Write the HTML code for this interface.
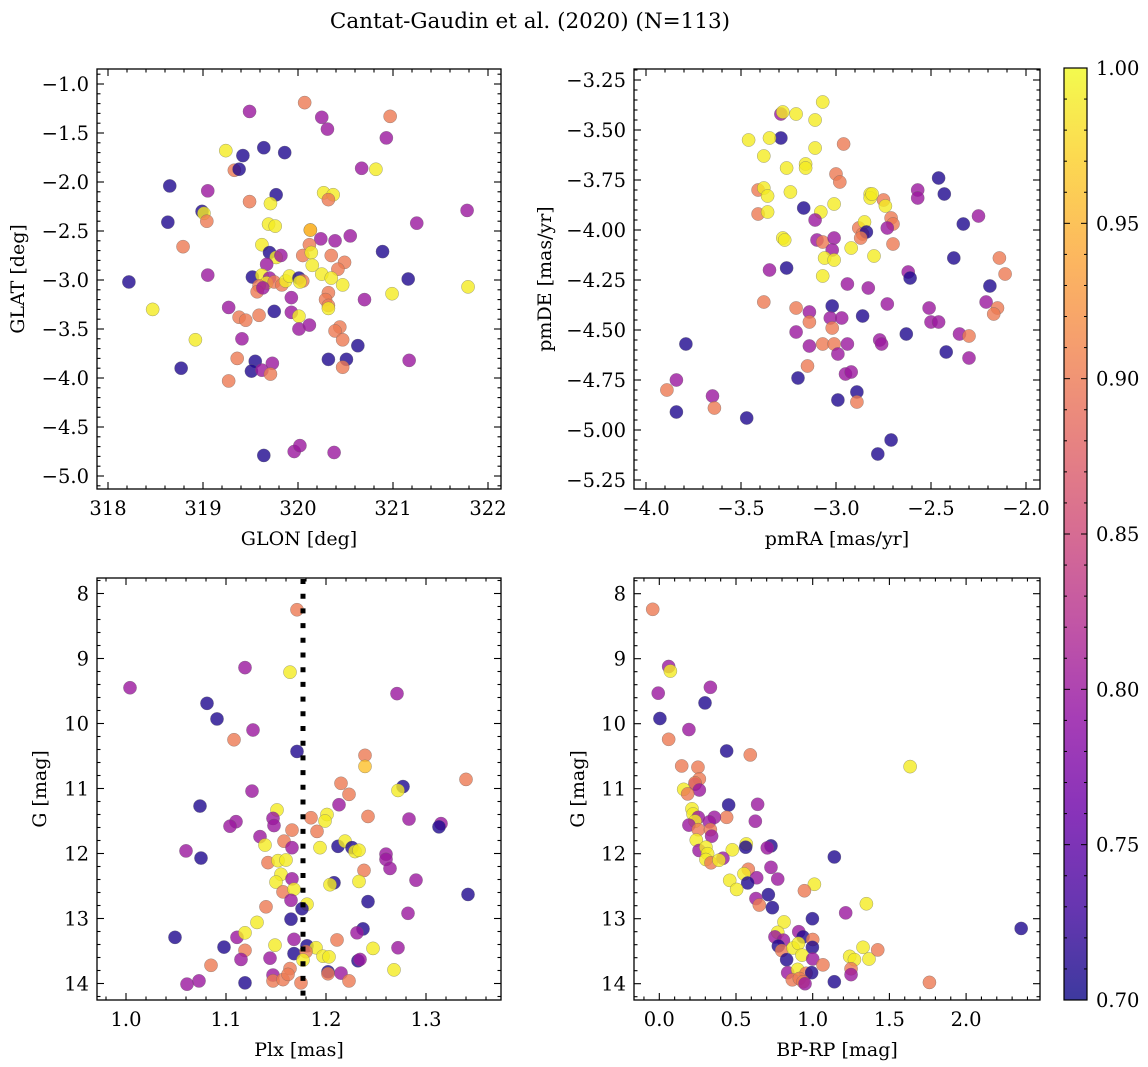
<!DOCTYPE html>
<html><head><meta charset="utf-8"><style>
html,body{margin:0;padding:0;background:#fff}
svg{display:block;font-family:"DejaVu Serif","Liberation Serif",serif}
</style></head><body>
<svg id="fig" width="1148" height="1067" viewBox="0 0 1148 1067" xmlns="http://www.w3.org/2000/svg">
<defs>
<linearGradient id="plasma" x1="0" y1="1" x2="0" y2="0">
<stop offset="0" stop-color="#0d0887"/><stop offset="0.1" stop-color="#41049d"/><stop offset="0.2" stop-color="#6a00a8"/><stop offset="0.3" stop-color="#8f0da4"/><stop offset="0.4" stop-color="#b12a90"/><stop offset="0.5" stop-color="#cc4778"/><stop offset="0.6" stop-color="#e16462"/><stop offset="0.7" stop-color="#f2844b"/><stop offset="0.8" stop-color="#fca636"/><stop offset="0.9" stop-color="#fcce25"/><stop offset="1" stop-color="#f0f921"/>
</linearGradient>
</defs>
<text x="530" y="28" font-size="21.5" text-anchor="middle">Cantat-Gaudin et al. (2020) (N=113)</text>
</svg>
<script>
// ---- Panel 1: GLON vs GLAT ----
const p1Glon=[319.49,320.07,320.25,320.31,320.97,320.93,319.24,319.42,319.64,319.86,319.33,319.38,320.67,320.82,318.65,319.05,319.77,320.27,320.37,320.32,319.49,319.71,318.99,319.01,319.04,318.63,321.78,321.25,319.69,319.76,320.13,320.13,320.24,320.39,320.55,318.79,319.62,320.12,319.70,319.77,319.82,320.05,320.14,320.35,320.49,320.42,320.15,319.67,320.89,318.22,319.05,319.52,319.62,319.70,319.67,319.75,319.83,319.87,319.91,320.01,320.05,320.02,320.25,320.35,320.47,319.59,319.57,319.63,321.16,321.79,320.99,320.32,320.29,319.93,320.70,318.47,319.27,319.38,319.45,319.59,319.75,319.93,320.01,320.01,320.12,320.32,320.32,320.44,320.39,320.47,318.92,319.41,320.63,319.36,319.55,319.51,319.62,319.73,319.71,320.32,320.51,320.47,321.17,318.77,319.27,319.64,319.96,320.02,320.38];
const p1Glat=[-1.28,-1.19,-1.34,-1.46,-1.33,-1.55,-1.68,-1.73,-1.65,-1.70,-1.88,-1.87,-1.86,-1.87,-2.04,-2.09,-2.13,-2.11,-2.13,-2.18,-2.20,-2.22,-2.30,-2.32,-2.40,-2.41,-2.29,-2.42,-2.43,-2.45,-2.49,-2.49,-2.58,-2.60,-2.55,-2.66,-2.64,-2.64,-2.72,-2.77,-2.75,-2.75,-2.72,-2.75,-2.82,-2.89,-2.85,-2.84,-2.71,-3.02,-2.95,-2.97,-2.95,-2.98,-3.03,-3.02,-3.05,-3.01,-2.96,-2.98,-3.01,-3.02,-2.94,-2.98,-3.05,-3.06,-3.12,-3.08,-2.99,-3.07,-3.14,-3.13,-3.20,-3.18,-3.20,-3.30,-3.28,-3.38,-3.41,-3.36,-3.32,-3.33,-3.37,-3.50,-3.46,-3.26,-3.29,-3.48,-3.52,-3.61,-3.61,-3.60,-3.67,-3.80,-3.83,-3.93,-3.92,-3.85,-3.96,-3.81,-3.81,-3.89,-3.82,-3.90,-4.03,-4.79,-4.75,-4.69,-4.76];
const p1Prob=[0.80,0.90,0.80,0.80,0.90,0.80,0.99,0.71,0.71,0.71,0.90,0.71,0.80,0.99,0.71,0.80,0.71,0.99,0.99,0.90,0.90,0.99,0.71,0.99,0.90,0.71,0.80,0.80,0.99,0.99,0.90,0.96,0.80,0.80,0.80,0.90,0.99,0.90,0.71,0.99,0.80,0.90,0.99,0.90,0.90,0.90,0.99,0.80,0.71,0.71,0.80,0.71,0.99,0.80,0.99,0.90,0.90,0.99,0.99,0.71,0.90,0.99,0.99,0.99,0.99,0.90,0.90,0.80,0.71,0.99,0.99,0.90,0.90,0.80,0.80,0.99,0.80,0.90,0.90,0.90,0.71,0.80,0.99,0.80,0.80,0.90,0.99,0.90,0.90,0.90,0.99,0.80,0.71,0.90,0.71,0.71,0.80,0.80,0.90,0.71,0.71,0.90,0.80,0.71,0.90,0.71,0.80,0.80,0.80];
// ---- Panel 2: pmRA vs pmDE ----
const p2Pmra=[-3.07,-3.29,-3.28,-3.21,-3.11,-3.29,-3.46,-3.35,-2.96,-3.11,-3.38,-3.26,-3.16,-3.16,-3.00,-2.98,-3.41,-3.38,-3.36,-3.24,-2.57,-2.57,-2.46,-2.43,-3.17,-3.41,-3.36,-3.08,-3.01,-3.11,-2.82,-2.82,-2.81,-2.75,-2.74,-2.71,-2.70,-2.73,-2.33,-2.25,-2.88,-2.86,-2.85,-2.84,-2.87,-3.10,-3.07,-3.01,-3.02,-2.92,-2.80,-3.06,-3.01,-2.70,-3.28,-3.27,-2.38,-2.14,-2.11,-3.35,-3.26,-3.07,-2.62,-2.61,-2.94,-2.83,-2.19,-3.38,-3.21,-3.14,-3.14,-3.02,-3.03,-2.97,-3.02,-2.86,-2.73,-2.51,-2.50,-2.46,-2.21,-2.15,-2.17,-2.63,-3.21,-3.14,-3.07,-3.01,-2.99,-2.94,-2.77,-2.76,-2.35,-2.30,-2.42,-2.30,-3.15,-3.20,-2.95,-2.92,-2.89,-2.89,-2.99,-3.84,-3.89,-3.84,-3.79,-3.65,-3.64,-3.47,-2.71,-2.78];
const p2Pmde=[-3.36,-3.42,-3.41,-3.42,-3.45,-3.54,-3.55,-3.54,-3.57,-3.59,-3.63,-3.69,-3.67,-3.69,-3.72,-3.76,-3.80,-3.79,-3.83,-3.81,-3.80,-3.84,-3.74,-3.82,-3.89,-3.92,-3.91,-3.91,-3.87,-3.95,-3.82,-3.84,-3.82,-3.85,-3.88,-3.94,-3.97,-3.99,-3.97,-3.93,-3.99,-4.02,-3.96,-4.01,-4.04,-4.05,-4.06,-4.04,-4.10,-4.09,-4.13,-4.14,-4.15,-4.07,-4.04,-4.05,-4.14,-4.14,-4.22,-4.20,-4.19,-4.23,-4.21,-4.24,-4.27,-4.29,-4.28,-4.36,-4.39,-4.41,-4.46,-4.38,-4.44,-4.44,-4.49,-4.43,-4.37,-4.39,-4.46,-4.46,-4.36,-4.39,-4.42,-4.52,-4.51,-4.58,-4.57,-4.57,-4.62,-4.57,-4.55,-4.57,-4.52,-4.53,-4.61,-4.64,-4.68,-4.74,-4.72,-4.71,-4.81,-4.86,-4.85,-4.75,-4.80,-4.91,-4.57,-4.83,-4.89,-4.94,-5.05,-5.12];
const p2Prob=[0.99,0.80,0.99,0.99,0.99,0.71,0.99,0.99,0.90,0.99,0.99,0.99,0.99,0.99,0.90,0.90,0.90,0.99,0.99,0.99,0.80,0.80,0.71,0.71,0.71,0.90,0.99,0.99,0.99,0.80,0.99,0.99,0.99,0.90,0.99,0.90,0.90,0.80,0.71,0.80,0.90,0.90,0.99,0.71,0.90,0.80,0.90,0.80,0.80,0.99,0.99,0.99,0.99,0.90,0.99,0.99,0.71,0.90,0.90,0.80,0.71,0.99,0.80,0.71,0.80,0.80,0.71,0.90,0.90,0.80,0.90,0.71,0.80,0.80,0.90,0.71,0.80,0.80,0.80,0.80,0.80,0.90,0.90,0.71,0.80,0.80,0.90,0.90,0.80,0.80,0.80,0.80,0.80,0.90,0.71,0.80,0.90,0.71,0.80,0.80,0.71,0.90,0.71,0.80,0.90,0.71,0.71,0.80,0.90,0.71,0.71,0.71];
// ---- Panel 3: Plx vs G ----
const p3Plx=[1.171,1.164,1.119,1.004,1.271,1.081,1.091,1.127,1.108,1.171,1.239,1.239,1.340,1.215,1.277,1.272,1.223,1.126,1.074,1.151,1.213,1.147,1.110,1.104,1.148,1.185,1.201,1.199,1.242,1.283,1.315,1.313,1.166,1.191,1.134,1.158,1.139,1.166,1.194,1.212,1.219,1.226,1.229,1.233,1.060,1.075,1.142,1.152,1.160,1.260,1.260,1.264,1.238,1.155,1.166,1.150,1.208,1.204,1.233,1.290,1.157,1.168,1.165,1.242,1.342,1.140,1.181,1.176,1.282,1.165,1.131,1.049,1.111,1.119,1.237,1.231,1.211,1.168,1.098,1.119,1.149,1.181,1.190,1.247,1.272,1.168,1.180,1.115,1.144,1.177,1.197,1.203,1.232,1.234,1.085,1.073,1.061,1.119,1.147,1.147,1.157,1.164,1.162,1.175,1.202,1.202,1.215,1.223,1.268];
const p3G=[8.25,9.21,9.14,9.45,9.54,9.69,9.93,10.10,10.25,10.43,10.49,10.66,10.86,10.92,10.97,11.03,11.09,11.04,11.27,11.33,11.25,11.46,11.51,11.58,11.57,11.45,11.40,11.50,11.43,11.47,11.54,11.59,11.64,11.66,11.74,11.81,11.87,11.91,11.91,11.89,11.81,11.91,11.97,11.95,11.96,12.07,12.14,12.11,12.10,12.01,12.09,12.23,12.26,12.32,12.39,12.44,12.45,12.48,12.43,12.41,12.59,12.55,12.72,12.74,12.63,12.82,12.78,12.85,12.92,13.01,13.06,13.29,13.29,13.22,13.16,13.22,13.33,13.32,13.44,13.49,13.41,13.42,13.45,13.46,13.45,13.54,13.51,13.63,13.61,13.64,13.58,13.59,13.65,13.63,13.72,13.96,14.01,13.99,13.87,13.96,13.94,13.77,13.86,13.99,13.82,13.85,13.84,13.96,13.79];
const p3Prob=[0.90,0.99,0.80,0.80,0.80,0.71,0.71,0.80,0.90,0.71,0.90,0.96,0.90,0.90,0.71,0.99,0.90,0.80,0.71,0.99,0.80,0.80,0.80,0.80,0.80,0.90,0.99,0.99,0.90,0.80,0.80,0.71,0.90,0.90,0.80,0.90,0.99,0.80,0.99,0.71,0.99,0.71,0.99,0.99,0.80,0.71,0.90,0.99,0.99,0.80,0.80,0.80,0.90,0.99,0.80,0.99,0.71,0.99,0.99,0.80,0.90,0.99,0.80,0.71,0.71,0.90,0.99,0.71,0.80,0.71,0.99,0.71,0.80,0.99,0.71,0.80,0.90,0.80,0.71,0.90,0.99,0.71,0.99,0.99,0.80,0.71,0.90,0.80,0.80,0.99,0.99,0.99,0.71,0.80,0.90,0.80,0.80,0.71,0.80,0.90,0.90,0.90,0.90,0.90,0.71,0.90,0.80,0.90,0.99];
const p3Cut=[1.177];
// ---- Panel 4: BP-RP vs G ----
const p4Bprp=[-0.043,0.061,0.072,-0.007,0.333,0.298,0.004,0.193,0.061,0.439,0.593,1.635,0.146,0.252,0.261,0.233,0.233,0.261,0.159,0.185,0.452,0.641,0.213,0.220,0.439,0.254,0.359,0.326,0.233,0.626,0.193,0.254,0.333,0.341,0.241,0.259,0.728,0.704,0.567,0.563,0.304,0.315,0.476,0.415,0.304,0.337,0.389,1.141,0.728,0.580,0.552,0.635,0.772,0.459,0.576,0.504,1.011,0.946,0.711,0.630,0.652,0.737,1.350,1.215,0.998,0.813,0.772,0.754,0.909,0.937,1.000,0.809,0.776,0.798,0.872,0.907,0.998,0.830,0.930,1.000,1.067,1.241,1.272,1.328,1.367,1.424,1.250,1.250,2.359,1.141,1.761,0.837,0.902,0.957,0.993,0.867,0.913,0.937,0.950];
const p4G=[8.24,9.12,9.19,9.53,9.44,9.68,9.92,10.09,10.24,10.42,10.48,10.66,10.65,10.67,10.85,10.93,10.91,11.02,11.01,11.08,11.25,11.24,11.31,11.39,11.44,11.44,11.44,11.51,11.50,11.50,11.56,11.63,11.63,11.73,11.79,11.95,11.88,11.91,11.85,11.90,11.90,12.00,11.94,12.07,12.09,12.14,12.10,12.05,12.21,12.24,12.31,12.37,12.39,12.41,12.45,12.55,12.47,12.57,12.63,12.69,12.79,12.83,12.77,12.91,13.00,13.05,13.21,13.28,13.20,13.28,13.32,13.33,13.42,13.49,13.45,13.38,13.44,13.63,13.56,13.62,13.71,13.58,13.63,13.44,13.62,13.48,13.77,13.86,13.15,13.97,13.98,13.83,13.78,13.84,13.83,13.94,13.92,13.97,14.00];
const p4Prob=[0.90,0.80,0.99,0.80,0.80,0.71,0.71,0.80,0.90,0.71,0.90,0.99,0.90,0.90,0.90,0.80,0.90,0.80,0.99,0.90,0.71,0.80,0.99,0.99,0.90,0.80,0.80,0.80,0.99,0.80,0.80,0.90,0.90,0.80,0.99,0.80,0.71,0.80,0.99,0.71,0.99,0.99,0.99,0.80,0.99,0.90,0.99,0.71,0.80,0.90,0.99,0.80,0.80,0.99,0.71,0.99,0.99,0.90,0.71,0.80,0.90,0.71,0.99,0.80,0.71,0.99,0.99,0.80,0.80,0.71,0.90,0.80,0.71,0.90,0.99,0.99,0.71,0.71,0.99,0.80,0.90,0.99,0.99,0.99,0.99,0.90,0.90,0.80,0.71,0.71,0.90,0.80,0.99,0.90,0.71,0.90,0.90,0.90,0.80];
// ---- Colorbar ----
const cbTicks=[0.70,0.75,0.80,0.85,0.90,0.95,1.00];
const cbRange=[0.70,1.00];

const NS="http://www.w3.org/2000/svg";
const svg=document.getElementById('fig');
const TICK_FS=19.5, TITLE_FS=19;
function mk(tag,attrs,parent){const e=document.createElementNS(NS,tag);for(const k in attrs)e.setAttribute(k,attrs[k]);(parent||svg).appendChild(e);return e;}
const stops=[[0,13,8,135],[0.1,65,4,157],[0.2,106,0,168],[0.3,143,13,164],[0.4,177,42,144],[0.5,204,71,120],[0.6,225,100,98],[0.7,242,132,75],[0.8,252,166,54],[0.9,252,206,37],[1,240,249,33]];
function plasma(t){t=Math.max(0,Math.min(1,t));for(let i=1;i<stops.length;i++){if(t<=stops[i][0]){const a=stops[i-1],b=stops[i],f=(t-a[0])/(b[0]-a[0]);return `rgb(${Math.round(a[1]+f*(b[1]-a[1]))},${Math.round(a[2]+f*(b[2]-a[2]))},${Math.round(a[3]+f*(b[3]-a[3]))})`;}}return 'rgb(240,249,33)';}
function lin(d0,d1,r0,r1){return v=>r0+(v-d0)/(d1-d0)*(r1-r0);}

function panel(cfg){
  const g=mk('g',{});
  
  
  const {L,R,T,B}=cfg;
  const sx=cfg.sx, sy=cfg.sy;
  const pts=mk('g',{},g);
  
  
  const n=Math.min(cfg.xs.length,cfg.ys.length,cfg.ps.length);
  for(let i=0;i<n;i++){
    const c=mk('circle',{cx:sx(cfg.xs[i]),cy:sy(cfg.ys[i]),r:6.6,fill:plasma((cfg.ps[i]-cbRange[0])/(cbRange[1]-cbRange[0])),'fill-opacity':0.8,stroke:'#666','stroke-width':0.5,'stroke-opacity':0.6},pts);
    
    
  }
  if(cfg.extra)cfg.extra(g);
  const fr=mk('rect',{x:L,y:T,width:R-L,height:B-T,fill:'none',stroke:'#000','stroke-width':1.3},g);
  
  
  const eps=1e-9;
  for(let v=cfg.xMinorStart;v<=cfg.xMax+eps;v+=cfg.xMinor){
    const x=sx(v); if(x<L-0.5||x>R+0.5)continue;
    const isMaj=Math.abs(v/cfg.xMajor-Math.round(v/cfg.xMajor))<1e-6;
    const len=isMaj?7:3.5;
    mk('line',{x1:x,y1:B,x2:x,y2:B-len,stroke:'#000','stroke-width':1.1},g);
    mk('line',{x1:x,y1:T,x2:x,y2:T+len,stroke:'#000','stroke-width':1.1},g);
  }
  cfg.xLabels.forEach(v=>{
    const t=mk('text',{x:sx(v),y:B+26,'font-size':TICK_FS,'text-anchor':'middle'},g);
    t.textContent=cfg.xFmt(v);
    
    
  });
  for(let v=cfg.yMinorStart;v<=cfg.yMax+eps;v+=cfg.yMinor){
    const y=sy(v); if(y<T-0.5||y>B+0.5)continue;
    const isMaj=Math.abs(v/cfg.yMajor-Math.round(v/cfg.yMajor))<1e-6;
    const len=isMaj?7:3.5;
    mk('line',{x1:L,y1:y,x2:L+len,y2:y,stroke:'#000','stroke-width':1.1},g);
    mk('line',{x1:R,y1:y,x2:R-len,y2:y,stroke:'#000','stroke-width':1.1},g);
  }
  cfg.yLabels.forEach(v=>{
    const t=mk('text',{x:L-8,y:sy(v)+7,'font-size':TICK_FS,'text-anchor':'end'},g);
    t.textContent=cfg.yFmt(v);
    
    
  });
  const xt=mk('text',{x:(L+R)/2,y:B+56,'font-size':TITLE_FS,'text-anchor':'middle'},g);
  xt.textContent=cfg.xTitle;
  
  
  const yx=cfg.yTitleX, yy=(T+B)/2;
  const yt=mk('text',{x:yx,y:yy,'font-size':TITLE_FS,'text-anchor':'middle',transform:`rotate(-90 ${yx} ${yy})`},g);
  yt.textContent=cfg.yTitle;
  
  
}
const minus=s=>s.replace('-','\u2212');

panel({name:'glon-glat-panel',L:97,R:501,T:69,B:489,
  sx:lin(318,319,108,203),sy:lin(-1,-2,84,182),
  xs:p1Glon,ys:p1Glat,ps:p1Prob,
  xMinorStart:317.8,xMax:322.2,xMinor:0.2,xMajor:1,
  yMinorStart:-5.2,yMax:-0.8,yMinor:0.1,yMajor:0.5,
  xLabels:[318,319,320,321,322],xFmt:v=>String(v),
  yLabels:[-1.0,-1.5,-2.0,-2.5,-3.0,-3.5,-4.0,-4.5,-5.0],yFmt:v=>minus(v.toFixed(1)),
  xTitle:'GLON [deg]',yTitle:'GLAT [deg]',yTitleX:24});

panel({name:'pm-panel',L:634,R:1040,T:69,B:489,
  sx:lin(-3,-2,836,1026),sy:lin(-3.25,-4.25,80,280),
  xs:p2Pmra,ys:p2Pmde,ps:p2Prob,
  xMinorStart:-4.1,xMax:-1.9,xMinor:0.1,xMajor:0.5,
  yMinorStart:-5.3,yMax:-3.15,yMinor:0.05,yMajor:0.25,
  xLabels:[-4.0,-3.5,-3.0,-2.5,-2.0],xFmt:v=>minus(v.toFixed(1)),
  yLabels:[-3.25,-3.5,-3.75,-4.0,-4.25,-4.5,-4.75,-5.0,-5.25],yFmt:v=>minus(v.toFixed(2)),
  xTitle:'pmRA [mas/yr]',yTitle:'pmDE [mas/yr]',yTitleX:551});

panel({name:'plx-g-panel',L:97,R:501,T:578,B:1000,
  sx:lin(1,1.1,126,226),sy:lin(8,9,593.5,658.5),
  xs:p3Plx,ys:p3G,ps:p3Prob,
  xMinorStart:0.96,xMax:1.38,xMinor:0.02,xMajor:0.1,
  yMinorStart:7.6,yMax:14.4,yMinor:0.2,yMajor:1,
  xLabels:[1.0,1.1,1.2,1.3],xFmt:v=>v.toFixed(1),
  yLabels:[8,9,10,11,12,13,14],yFmt:v=>String(v),
  xTitle:'Plx [mas]',yTitle:'G [mag]',yTitleX:46,
  extra:g=>{const x=lin(1,1.1,126,226)(p3Cut[0]);const l=mk('line',{x1:x,y1:579,x2:x,y2:1000,stroke:'#000','stroke-width':5,'stroke-dasharray':'5 9.7'},g);
    
    }});

panel({name:'cmd-panel',L:634,R:1040,T:578,B:1000,
  sx:lin(0,0.5,659.3,736),sy:lin(8,9,593.7,658.7),
  xs:p4Bprp,ys:p4G,ps:p4Prob,
  xMinorStart:-0.2,xMax:2.6,xMinor:0.1,xMajor:0.5,
  yMinorStart:7.6,yMax:14.4,yMinor:0.2,yMajor:1,
  xLabels:[0.0,0.5,1.0,1.5,2.0],xFmt:v=>v.toFixed(1),
  yLabels:[8,9,10,11,12,13,14],yFmt:v=>String(v),
  xTitle:'BP-RP [mag]',yTitle:'G [mag]',yTitleX:584});

(function(){
  const L=1064,R=1087,T=68,B=1000;
  const cy=lin(cbRange[0],cbRange[1],B,T);
  const g=mk('g',{});
  
  
  mk('rect',{x:L,y:T,width:R-L,height:B-T,fill:'url(#plasma)','fill-opacity':0.8},g);
  mk('rect',{x:L,y:T,width:R-L,height:B-T,fill:'none',stroke:'#000','stroke-width':1.2},g);
  for(let v=cbRange[0];v<=cbRange[1]+1e-9;v+=0.01){
    const y=cy(v);const maj=Math.abs(v*20-Math.round(v*20))<1e-6;const len=maj?6:3;
    mk('line',{x1:R,y1:y,x2:R-len,y2:y,stroke:'#000','stroke-width':1},g);
    mk('line',{x1:L,y1:y,x2:L+len,y2:y,stroke:'#000','stroke-width':1},g);
  }
  cbTicks.forEach(v=>{
    const t=mk('text',{x:R+9,y:cy(v)+7,'font-size':TICK_FS},g);
    t.textContent=v.toFixed(2);
    
    
  });
})();
</script>
</body></html>
